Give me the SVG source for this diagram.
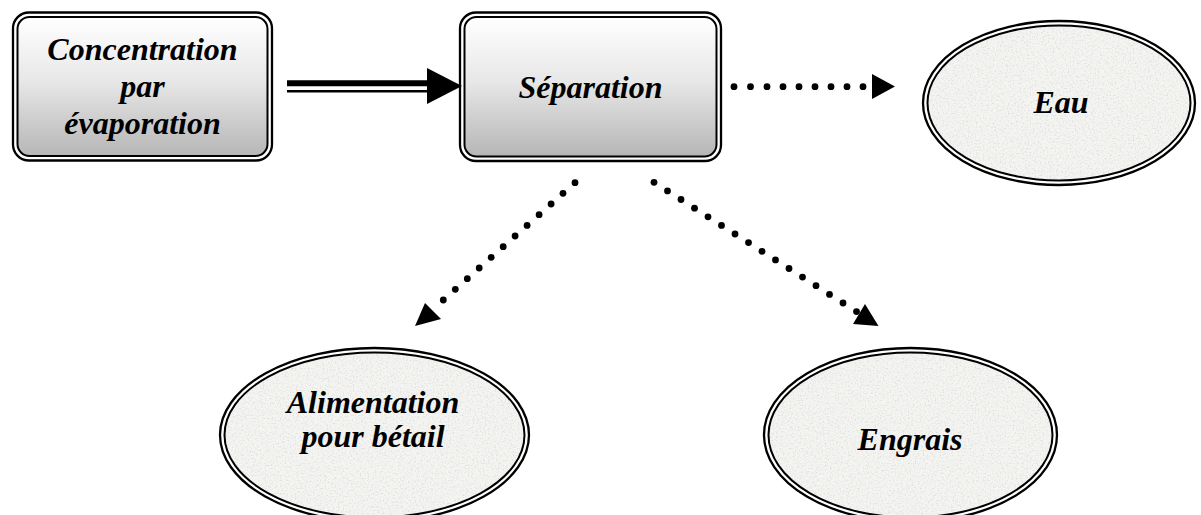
<svg xmlns="http://www.w3.org/2000/svg" width="1201" height="515" viewBox="0 0 1201 515">
<style>
.lbl{font-family:"Liberation Serif","Times New Roman",serif;font-weight:bold;font-style:italic;font-size:32px;fill:#000;text-anchor:middle}
.o{fill:none;stroke:#000;stroke-width:2.3}
.i{fill:none;stroke:#000;stroke-width:2}
.tx{fill:#f4f4f2;stroke:none}
.dot{fill:#000;stroke:none}
</style>
<defs>
<linearGradient id="grad" x1="0" y1="0" x2="0" y2="1">
<stop offset="0" stop-color="#ffffff"/>
<stop offset="0.45" stop-color="#e8e8e8"/>
<stop offset="1" stop-color="#b6b6b6"/>
</linearGradient>
<filter id="tex" x="0" y="0" width="100%" height="100%">
<feTurbulence type="fractalNoise" baseFrequency="0.6" numOctaves="3" seed="7" result="n"/>
<feColorMatrix in="n" type="matrix" values="0 0 0 0 0.6  0 0 0 0 0.6  0 0 0 0 0.58  0 0 0 2.6 -1.25" result="g"/>
<feComponentTransfer in="g" result="g2"><feFuncA type="linear" slope="0.6"/></feComponentTransfer>
<feComposite in="g2" in2="SourceGraphic" operator="in" result="c"/>
<feMerge><feMergeNode in="SourceGraphic"/><feMergeNode in="c"/></feMerge>
</filter>
</defs>

<g id="connectors">
<line x1="287" y1="83.3" x2="430" y2="83.3" stroke="#000" stroke-width="6"/>
<line x1="287" y1="91.2" x2="430" y2="91.2" stroke="#000" stroke-width="2.4"/>
<polygon points="427,68 462,86 427,104" fill="#000"/>
<g class="dot">
<circle cx="734" cy="86.7" r="3.4"/><circle cx="750.5" cy="86.7" r="3.4"/><circle cx="767" cy="86.7" r="3.4"/><circle cx="783" cy="86.7" r="3.4"/><circle cx="799" cy="86.7" r="3.4"/><circle cx="815" cy="86.7" r="3.4"/><circle cx="831" cy="86.7" r="3.4"/><circle cx="847" cy="86.7" r="3.4"/><circle cx="863" cy="86.7" r="3.4"/>
</g>
<polygon points="872,74 895,86.5 872,99" fill="#000"/>
<g class="dot">
<circle cx="575" cy="182.7" r="3.4"/><circle cx="563" cy="193.3" r="3.4"/><circle cx="551.1" cy="204" r="3.4"/><circle cx="539.1" cy="214.7" r="3.4"/><circle cx="527.1" cy="225.4" r="3.4"/><circle cx="515.1" cy="236" r="3.4"/><circle cx="503.2" cy="246.7" r="3.4"/><circle cx="491.2" cy="257.3" r="3.4"/><circle cx="479.2" cy="268" r="3.4"/><circle cx="467.3" cy="278.7" r="3.4"/><circle cx="455.3" cy="289.3" r="3.4"/><circle cx="443.3" cy="300" r="3.4"/>
</g>
<polygon points="415,326 425,303 441,319" fill="#000"/>
<g class="dot">
<circle cx="654" cy="182.3" r="3.4"/><circle cx="667.5" cy="190.9" r="3.4"/><circle cx="681" cy="199.5" r="3.4"/><circle cx="694.5" cy="208.2" r="3.4"/><circle cx="708" cy="216.8" r="3.4"/><circle cx="721.5" cy="225.4" r="3.4"/><circle cx="735" cy="234" r="3.4"/><circle cx="748.5" cy="242.6" r="3.4"/><circle cx="762" cy="251.3" r="3.4"/><circle cx="775.5" cy="259.9" r="3.4"/><circle cx="789" cy="268.5" r="3.4"/><circle cx="802.5" cy="277.1" r="3.4"/><circle cx="816" cy="285.7" r="3.4"/><circle cx="829.5" cy="294.4" r="3.4"/><circle cx="843" cy="303" r="3.4"/><circle cx="856.5" cy="311.6" r="3.4"/>
</g>
<polygon points="878.5,326 853,324 865,304" fill="#000"/>
</g>

<g id="node-concentration">
<rect class="o" x="13" y="12.5" width="259" height="148" rx="16"/>
<rect class="i" x="17.5" y="17" width="250" height="139" rx="12" style="fill:url(#grad)"/>
<text class="lbl" x="142.5" y="60">Concentration</text>
<text class="lbl" x="142.5" y="97">par</text>
<text class="lbl" x="142.5" y="134">évaporation</text>
</g>

<g id="node-separation">
<rect class="o" x="460" y="12.5" width="261" height="148.5" rx="16"/>
<rect class="i" x="464.5" y="17" width="252" height="139.5" rx="12" style="fill:url(#grad)"/>
<text class="lbl" x="590.5" y="98">Séparation</text>
</g>

<g id="node-eau">
<ellipse class="tx" cx="1059" cy="103" rx="131.5" ry="77.5" filter="url(#tex)"/>
<ellipse class="o" cx="1059" cy="103" rx="136" ry="82"/>
<ellipse class="i" cx="1059" cy="103" rx="131.5" ry="77.5"/>
<text class="lbl" x="1061" y="113">Eau</text>
</g>

<g id="node-alimentation">
<ellipse class="tx" cx="374.5" cy="435" rx="150" ry="82.5" filter="url(#tex)"/>
<ellipse class="o" cx="374.5" cy="435" rx="154.5" ry="87"/>
<ellipse class="i" cx="374.5" cy="435" rx="150" ry="82.5"/>
<text class="lbl" x="373" y="413">Alimentation</text>
<text class="lbl" x="373" y="447">pour bétail</text>
</g>

<g id="node-engrais">
<ellipse class="tx" cx="910.5" cy="435" rx="142" ry="82.5" filter="url(#tex)"/>
<ellipse class="o" cx="910.5" cy="435" rx="146.5" ry="87"/>
<ellipse class="i" cx="910.5" cy="435" rx="142" ry="82.5"/>
<text class="lbl" x="910" y="450">Engrais</text>
</g>
</svg>
